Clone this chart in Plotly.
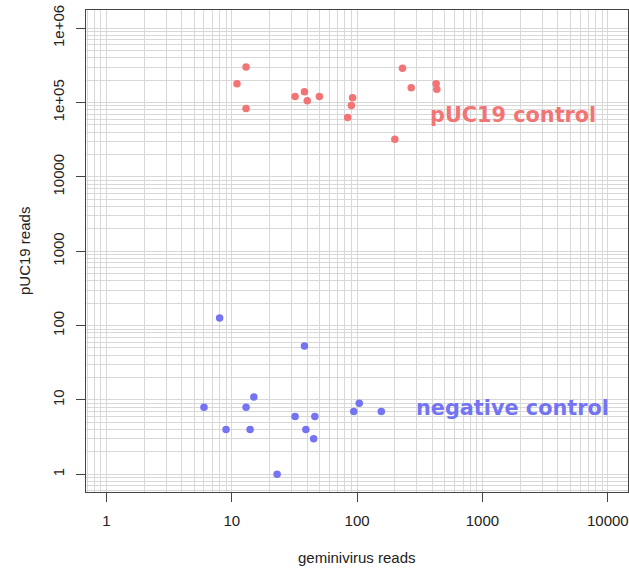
import numpy as np
import plotly.graph_objects as go

# pUC19 control samples
puc_x = [13, 11, 13, 32, 38, 40, 50, 92, 90, 84, 230, 270, 427, 432, 200]
puc_y = [300000, 179000, 83500, 121000, 140000, 106000, 121000, 116000, 91600, 63100,
         289000, 158000, 179000, 151000, 32000]

# negative control samples
neg_x = [8, 38, 6, 13, 15, 9, 14, 32, 46, 39, 45, 23, 94, 104, 156]
neg_y = [127, 53, 8, 8, 11, 4, 4, 6, 6, 4, 3, 1, 7, 9, 7]

x_ticks = [1, 10, 100, 1000, 10000]
x_ticktext = ["1", "10", "100", "1000", "10000"]
y_ticks = [1, 10, 100, 1000, 10000, 100000, 1000000]
y_ticktext = ["1", "10", "100", "1000", "10000", "1e+05", "1e+06"]

labels = ["pUC19 control", "negative control"]
x_title = "geminivirus reads"
y_title = "pUC19 reads"

RED = "#F27474"
BLUE = "#7474F2"

grid_x = [m * 10 ** k for k in range(-1, 6) for m in range(1, 10)]
grid_y = [m * 10 ** k for k in range(-1, 8) for m in range(1, 10)]

fig = go.Figure()
fig.add_trace(go.Scatter(x=puc_x, y=puc_y, mode="markers",
                         marker=dict(color=RED, size=7.5, line=dict(width=0)),
                         showlegend=False))
fig.add_trace(go.Scatter(x=neg_x, y=neg_y, mode="markers",
                         marker=dict(color=BLUE, size=7.5, line=dict(width=0)),
                         showlegend=False))

tickfont = dict(family="Liberation Sans, Arial, sans-serif", size=15, color="#222")
axis_common = dict(
    type="log", showline=True, mirror=True, linecolor="#444", linewidth=1.2,
    ticks="outside", ticklen=9, tickcolor="#444", tickwidth=1.2,
    showgrid=True, gridcolor="#d8d8d8", gridwidth=1.2, zeroline=False,
    tickfont=tickfont, ticklabeloverflow="allow",
)

fig.update_xaxes(**axis_common, range=[-0.163, 4.161], tickmode="array",
                 tickvals=x_ticks, ticktext=x_ticktext,
                 minor=dict(tickmode="array", tickvals=grid_x, showgrid=True,
                            gridcolor="#d8d8d8", gridwidth=1.2, ticks=""),
                 ticklabelstandoff=6)
fig.update_yaxes(**axis_common, range=[-0.238, 6.245], tickmode="array",
                 tickvals=y_ticks, ticktext=y_ticktext, tickangle=-90,
                 minor=dict(tickmode="array", tickvals=grid_y, showgrid=True,
                            gridcolor="#d8d8d8", gridwidth=1.2, ticks=""),
                 ticklabelstandoff=6)

ann_font = dict(family="DejaVu Sans, sans-serif", size=20.8)
fig.add_annotation(x=np.log10(1742), y=np.log10(67800), xref="x", yref="y",
                   text="<b>" + labels[0] + "</b>", showarrow=False,
                   font=dict(**ann_font, color=RED), xanchor="center", yanchor="middle")
fig.add_annotation(x=np.log10(1742), y=np.log10(7.9), xref="x", yref="y",
                   text="<b>" + labels[1] + "</b>", showarrow=False,
                   font=dict(**ann_font, color=BLUE), xanchor="center", yanchor="middle")

title_font = dict(family="Liberation Sans, Arial, sans-serif", size=15, color="#222")
fig.add_annotation(x=0.5, y=0, xref="paper", yref="paper", text=x_title,
                   showarrow=False, font=title_font, xanchor="center",
                   yanchor="middle", yshift=-65)
fig.add_annotation(x=0, y=0.5, xref="paper", yref="paper", text=y_title,
                   showarrow=False, font=title_font, xanchor="center",
                   yanchor="middle", xshift=-62, textangle=-90)

fig.update_layout(width=629, height=568, margin=dict(l=86, r=1, t=10, b=76),
                  plot_bgcolor="white", paper_bgcolor="white")

# remove the default 8px page margin so the figure fills the window exactly
fig.write_html("out.html",
               config={"displayModeBar": False},
               post_script="document.body.style.margin='0';"
                           "document.body.style.overflow='hidden';")
